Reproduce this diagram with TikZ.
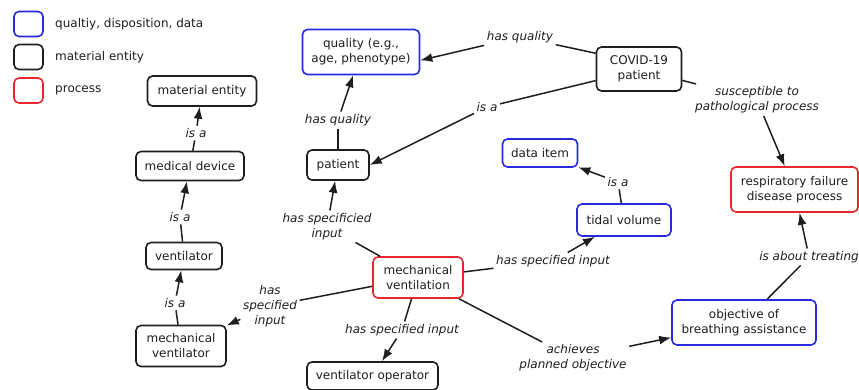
\documentclass[tikz,border=0pt]{standalone}
\usepackage{fontspec}
\setmainfont{DejaVu Sans}
\usetikzlibrary{arrows.meta}
\definecolor{myblue}{RGB}{40,40,220}
\definecolor{myred}{RGB}{228,40,45}
\definecolor{myblack}{RGB}{30,30,30}
\begin{document}
\begin{tikzpicture}[x=1pt,y=-1pt,
  box/.style={draw, rounded corners=5pt, line width=1.6pt, align=center, font=\fontsize{12}{15}\selectfont, inner sep=0pt, text=myblack},
  bbox/.style={box, draw=myblack},
  blbox/.style={box, draw=myblue},
  rbox/.style={box, draw=myred},
  lbl/.style={font=\fontsize{12}{15}\selectfont\itshape, align=center, inner sep=2.5pt, text=myblack},
  legtext/.style={font=\fontsize{12}{15}\selectfont, anchor=west, inner sep=0pt, text=myblack},
  edge/.style={line width=1.5pt, myblack},
  arr/.style={edge, -{Latex[length=12pt,width=9pt]}}
]
\useasboundingbox (0,0) rectangle (859,389);

% legend
\node[blbox, minimum width=29pt, minimum height=25pt] (lg1) at (28.5,24) {};
\node[bbox, minimum width=29pt, minimum height=25pt] (lg2) at (28.5,57) {};
\node[rbox, minimum width=29pt, minimum height=25pt] (lg3) at (28.5,90.5) {};
\node[legtext] (lt1) at (55,24) {qualtiy, disposition, data};
\node[legtext] (lt2) at (55,57) {material entity};
\node[legtext] (lt3) at (55,90.5) {process};

% concept nodes
\node[bbox, minimum width=109pt, minimum height=30pt] (mat) at (202,91) {material entity};
\node[bbox, minimum width=108pt, minimum height=29pt] (meddev) at (190,166) {medical device};
\node[bbox, minimum width=76pt, minimum height=27pt] (vent) at (184,256) {ventilator};
\node[bbox, minimum width=90pt, minimum height=41pt] (mechvent) at (181,346) {mechanical\\ventilator};
\node[blbox, minimum width=117pt, minimum height=45pt] (quality) at (361,52) {quality (e.g.,\\age, phenotype)};
\node[bbox, minimum width=62pt, minimum height=30pt] (patient) at (338,165) {patient};
\node[blbox, minimum width=75pt, minimum height=28pt] (data) at (540,153) {data item};
\node[bbox, minimum width=85pt, minimum height=44pt] (covid) at (639,69) {COVID-19\\patient};
\node[rbox, minimum width=127pt, minimum height=45pt] (resp) at (794.5,189.5) {respiratory failure\\disease process};
\node[blbox, minimum width=94pt, minimum height=32pt] (tidal) at (624,220) {tidal volume};
\node[rbox, minimum width=90pt, minimum height=41pt] (mv) at (418,277.5) {mechanical\\ventilation};
\node[bbox, minimum width=131pt, minimum height=28pt] (oper) at (372.5,376) {ventilator operator};
\node[blbox, minimum width=144pt, minimum height=45pt] (obj) at (744,322.5) {objective of\\breathing assistance};

% linking phrases
\node[lbl] (l1) at (196,133) {is a};
\node[lbl] (l2) at (180,217) {is a};
\node[lbl] (l3) at (175,303) {is a};
\node[lbl] (l4) at (338,120) {has quality};
\node[lbl] (l5) at (520,37) {has quality};
\node[lbl] (l6) at (487,107) {is a};
\node[lbl] (l7) at (757,100) {susceptible to\\pathological process};
\node[lbl] (l8) at (618,182) {is a};
\node[lbl] (l9) at (327,226.5) {has specificied\\input};
\node[lbl] (l10) at (553,261) {has specified input};
\node[lbl] (l11) at (270,306) {has\\specified\\input};
\node[lbl] (l12) at (402,330) {has specified input};
\node[lbl] (l13) at (573,358) {achieves\\planned objective};
\node[lbl] (l14) at (809,257) {is about treating};

% connections
\draw[edge] (meddev) -- (l1); \draw[arr] (l1) -- (mat);
\draw[edge] (vent) -- (l2); \draw[arr] (l2) -- (meddev);
\draw[edge] (mechvent) -- (l3); \draw[arr] (l3) -- (vent);
\draw[edge] (patient) -- (l4); \draw[arr] (l4) -- (quality);
\draw[edge] (covid.160) -- (l5); \draw[arr] (l5) -- (quality.-8);
\draw[edge] (covid.-165) -- (l6); \draw[arr] (l6) -- (patient.east);
\draw[edge] (covid) -- (l7); \draw[arr] (l7) -- (resp);
\draw[edge] (tidal) -- (l8); \draw[arr] (l8) -- (data);
\draw[edge] (mv) -- (l9); \draw[arr] (l9) -- (patient);
\draw[edge] (mv) -- (l10); \draw[arr] (l10) -- (tidal);
\draw[edge] (mv) -- (l11); \draw[arr] (l11) -- (mechvent);
\draw[edge] (mv) -- (l12); \draw[arr] (l12) -- (oper);
\draw[edge] (mv) -- (l13); \draw[arr] (l13) -- (obj);
\draw[edge] (obj) -- (l14); \draw[arr] (l14) -- (resp);
\end{tikzpicture}
\end{document}
